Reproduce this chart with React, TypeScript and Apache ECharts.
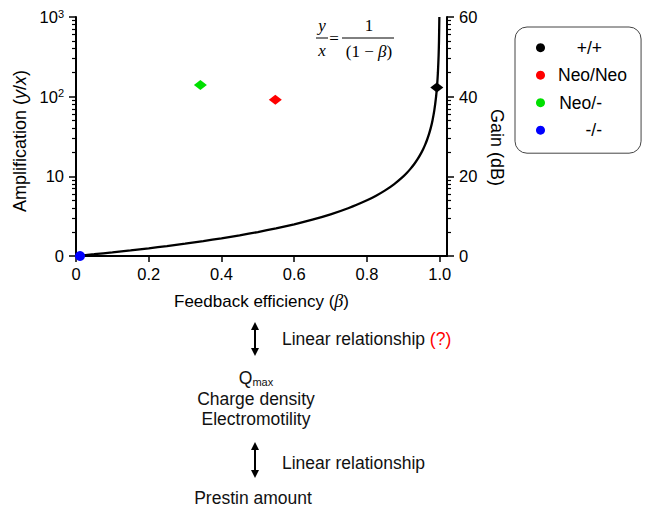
import React, { useEffect, useRef } from "react";
import * as echarts from "echarts";

const FONT = '"Liberation Sans", Arial, Helvetica, sans-serif';
const SERIF = '"Liberation Serif", "Times New Roman", serif';

// Theoretical curve y/x = 1/(1-beta), expressed as gain in dB (read at these beta values)
const curveBeta = [0, 0.05, 0.1, 0.15, 0.2, 0.25, 0.3, 0.35, 0.4, 0.45, 0.5, 0.55, 0.6, 0.65, 0.7, 0.75, 0.8, 0.825, 0.85, 0.875, 0.9, 0.91, 0.92, 0.93, 0.94, 0.95, 0.955, 0.96, 0.965, 0.97, 0.975, 0.98, 0.985, 0.99, 0.993, 0.995, 0.997, 0.998, 0.999];
const curveGainDb = [0, 0.446, 0.915, 1.412, 1.938, 2.499, 3.098, 3.742, 4.437, 5.193, 6.021, 6.936, 7.959, 9.119, 10.458, 12.041, 13.979, 15.139, 16.478, 18.062, 20.0, 20.915, 21.938, 23.098, 24.437, 26.021, 26.936, 27.959, 29.119, 30.458, 32.041, 33.979, 36.478, 40.0, 43.098, 46.021, 50.458, 53.979, 60.0];

// Genotype points: [beta, gain dB]
const genotypes = ["+/+", "Neo/Neo", "Neo/-", "-/-"];
const genotypeColors = ["#000000", "#ff0000", "#00e000", "#0000ff"];
const genotypeBeta = [0.992, 0.548, 0.342, 0.011];
const genotypeGainDb = [42.3, 39.2, 42.9, 0];

const xTicks = [0, 0.2, 0.4, 0.6, 0.8, 1.0];
const gainMajor = [0, 20, 40, 60];
const ampLabels = ["0", "10", "10^2", "10^3"];

const minorDb: number[] = [];
for (let d = 0; d < 3; d++) {
  for (let k = 2; k <= 9; k++) minorDb.push(20 * Math.log10(k) + 20 * d);
}

export default function App() {
  const ref = useRef<HTMLDivElement>(null);
  useEffect(() => {
    if (!ref.current) return;
    const chart = echarts.init(ref.current, undefined, { renderer: "svg" });
    const black = "#000";
    const axisLine = { show: true, lineStyle: { color: black, width: 2 } };
    const TICK = 16.5;
    const TXT = 17.5;

    const ampFormatter = (v: number) => {
      const i = gainMajor.indexOf(Math.round(v));
      if (i < 0) return "";
      const s = ampLabels[i];
      if (s.includes("^")) {
        const [b, e] = s.split("^");
        return `{b|${b}}{s|${e}}`;
      }
      return `{b|${s}}`;
    };

    const series: any[] = [
      {
        name: "curve",
        type: "line",
        data: curveBeta.map((b, i) => [b, curveGainDb[i]]),
        showSymbol: false,
        symbol: "none",
        smooth: 0.2,
        lineStyle: { color: black, width: 2.3 },
        xAxisIndex: 0,
        yAxisIndex: 0,
        z: 2,
      },
    ];
    genotypes.forEach((g, i) => {
      series.push({
        name: g,
        type: "scatter",
        data: [[genotypeBeta[i], genotypeGainDb[i]]],
        symbol: g === "-/-" ? "circle" : "diamond",
        symbolSize: g === "-/-" ? 10 : [13, 10],
        itemStyle: { color: genotypeColors[i], opacity: 1 },
        clip: false,
        xAxisIndex: 0,
        yAxisIndex: 0,
        z: 5,
      });
    });

    chart.setOption({
      animation: false,
      grid: { left: 76, right: 198, top: 17, bottom: 253, containLabel: false },
      legend: {
        orient: "vertical",
        left: 515,
        top: 27,
        data: genotypes.map((g) => ({ name: g, icon: "circle" })),
        itemWidth: 9,
        itemHeight: 9,
        itemGap: 9.5,
        itemStyle: { opacity: 1 },
        padding: [11.7, 14, 14, 21],
        borderColor: "#444",
        borderWidth: 1,
        borderRadius: 12,
        selectedMode: false,
        textStyle: {
          fontFamily: FONT,
          fontSize: TXT,
          color: black,
          lineHeight: 18,
          rich: {
            r: { fontFamily: FONT, fontSize: TXT, width: 44, align: "right", padding: [0, 0, 0, 8] },
            l: { fontFamily: FONT, fontSize: TXT, padding: [0, 0, 0, 8] },
          },
        },
        formatter: (name: string) => (name === "Neo/Neo" ? `{l|${name}}` : `{r|${name}}`),
      },
      xAxis: {
        type: "value",
        min: 0,
        max: 1.02,
        interval: 0.2,
        axisLine,
        axisTick: { show: true, length: 6, customValues: xTicks, lineStyle: { color: black, width: 1.5 } },
        axisLabel: {
          customValues: xTicks,
          formatter: (v: number) => (v === 0 ? "0" : v.toFixed(1)),
          fontFamily: FONT,
          fontSize: TICK,
          color: black,
          margin: 9,
        },
        splitLine: { show: false },
        name: "Feedback efficiency ({i|β})",
        nameLocation: "middle",
        nameGap: 36,
        nameTextStyle: {
          fontFamily: FONT,
          fontSize: 17,
          color: black,
          rich: { i: { fontFamily: SERIF, fontStyle: "italic", fontSize: 18, color: black } },
        },
      },
      yAxis: [
        {
          type: "value",
          position: "left",
          min: 0,
          max: 60,
          interval: 20,
          offset: 0,
          axisLine,
          axisTick: { show: true, length: 7, lineStyle: { color: black, width: 1.5 } },
          axisLabel: {
            formatter: ampFormatter,
            margin: 12,
            color: black,
            rich: {
              b: { fontFamily: FONT, fontSize: TICK, color: black, lineHeight: 18 },
              s: { fontFamily: FONT, fontSize: 11, color: black, verticalAlign: "top", lineHeight: 18, padding: [0, 0, 6, 0] },
            },
          },
          splitLine: { show: false },
          name: "Amplification ({i|y}/{i|x})",
          nameLocation: "middle",
          nameGap: 41,
          nameRotate: 90,
          nameTextStyle: {
            fontFamily: FONT,
            fontSize: 18,
            color: black,
            padding: [0, 9, 0, 0],
            rich: { i: { fontFamily: FONT, fontStyle: "italic", fontSize: 18, color: black } },
          },
        },
        {
          type: "value",
          position: "left",
          min: 0,
          max: 60,
          offset: 0,
          axisLine: { show: false },
          axisTick: { show: true, length: 4, customValues: minorDb, lineStyle: { color: black, width: 1.2 } },
          axisLabel: { show: false },
          splitLine: { show: false },
        },
        {
          type: "value",
          position: "right",
          min: 0,
          max: 60,
          interval: 20,
          offset: 0,
          axisLine,
          axisTick: { show: true, length: 7, lineStyle: { color: black, width: 1.5 } },
          axisLabel: { fontFamily: FONT, fontSize: TICK, color: black, margin: 12 },
          splitLine: { show: false },
          name: "Gain (dB)",
          nameLocation: "middle",
          nameGap: 37,
          nameRotate: -90,
          nameTextStyle: { fontFamily: FONT, fontSize: 18, color: black, padding: [0, 0, 0, 22] },
        },
        {
          type: "value",
          position: "right",
          min: 0,
          max: 60,
          offset: 0,
          axisLine: { show: false },
          axisTick: { show: true, length: 4, customValues: minorDb, lineStyle: { color: black, width: 1.2 } },
          axisLabel: { show: false },
          splitLine: { show: false },
        },
      ],
      series,
      graphic: [
        // formula y/x = 1/(1-beta)
        { type: "text", x: 322, y: 25, style: { text: "y", fontFamily: SERIF, fontStyle: "italic", fontSize: 17, fill: black, align: "center", verticalAlign: "middle" } },
        { type: "line", shape: { x1: 316, y1: 38, x2: 328, y2: 38 }, style: { stroke: black, lineWidth: 1 } },
        { type: "text", x: 322, y: 50, style: { text: "x", fontFamily: SERIF, fontStyle: "italic", fontSize: 17, fill: black, align: "center", verticalAlign: "middle" } },
        { type: "text", x: 334, y: 38, style: { text: "=", fontFamily: SERIF, fontSize: 17, fill: black, align: "center", verticalAlign: "middle" } },
        { type: "text", x: 369, y: 25, style: { text: "1", fontFamily: SERIF, fontSize: 17, fill: black, align: "center", verticalAlign: "middle" } },
        { type: "line", shape: { x1: 342, y1: 38, x2: 394, y2: 38 }, style: { stroke: black, lineWidth: 1 } },
        {
          type: "text",
          x: 369,
          y: 51,
          style: {
            text: "{n|(1 − }{i|β}{n|)}",
            align: "center",
            verticalAlign: "middle",
            rich: {
              n: { fontFamily: SERIF, fontSize: 17, fill: black },
              i: { fontFamily: SERIF, fontStyle: "italic", fontSize: 17, fill: black },
            },
          },
        },
        // arrows
        { type: "line", shape: { x1: 255, y1: 327, x2: 255, y2: 351 }, style: { stroke: black, lineWidth: 2 } },
        { type: "polygon", shape: { points: [[251, 330], [255, 322], [259, 330]] }, style: { fill: black } },
        { type: "polygon", shape: { points: [[251, 348], [255, 356], [259, 348]] }, style: { fill: black } },
        { type: "line", shape: { x1: 255, y1: 447, x2: 255, y2: 473 }, style: { stroke: black, lineWidth: 2 } },
        { type: "polygon", shape: { points: [[251, 450], [255, 442], [259, 450]] }, style: { fill: black } },
        { type: "polygon", shape: { points: [[251, 470], [255, 478], [259, 470]] }, style: { fill: black } },
        {
          type: "text",
          x: 282,
          y: 339,
          style: {
            text: "{a|Linear relationship }{r|(?)}",
            align: "left",
            verticalAlign: "middle",
            rich: {
              a: { fontFamily: FONT, fontSize: TXT, fill: "#111" },
              r: { fontFamily: FONT, fontSize: TXT, fill: "#ff0000" },
            },
          },
        },
        {
          type: "text",
          x: 256,
          y: 378,
          style: {
            text: "{q|Q}{m|max}",
            align: "center",
            verticalAlign: "middle",
            rich: {
              q: { fontFamily: FONT, fontSize: TXT, fill: "#111", lineHeight: 18 },
              m: { fontFamily: FONT, fontSize: 11, fill: "#111", verticalAlign: "bottom", lineHeight: 18 },
            },
          },
        },
        { type: "text", x: 256, y: 399, style: { text: "Charge density", fontFamily: FONT, fontSize: TXT, fill: "#111", align: "center", verticalAlign: "middle" } },
        { type: "text", x: 256, y: 419, style: { text: "Electromotility", fontFamily: FONT, fontSize: TXT, fill: "#111", align: "center", verticalAlign: "middle" } },
        { type: "text", x: 282, y: 463, style: { text: "Linear relationship", fontFamily: FONT, fontSize: TXT, fill: "#111", align: "left", verticalAlign: "middle" } },
        { type: "text", x: 253, y: 498, style: { text: "Prestin amount", fontFamily: FONT, fontSize: TXT, fill: "#111", align: "center", verticalAlign: "middle" } },
      ],
    });
    return () => chart.dispose();
  }, []);
  return (
    <div
      ref={ref}
      style={{ position: "fixed", left: 0, top: 0, width: 645, height: 509, background: "#fff" }}
    />
  );
}
